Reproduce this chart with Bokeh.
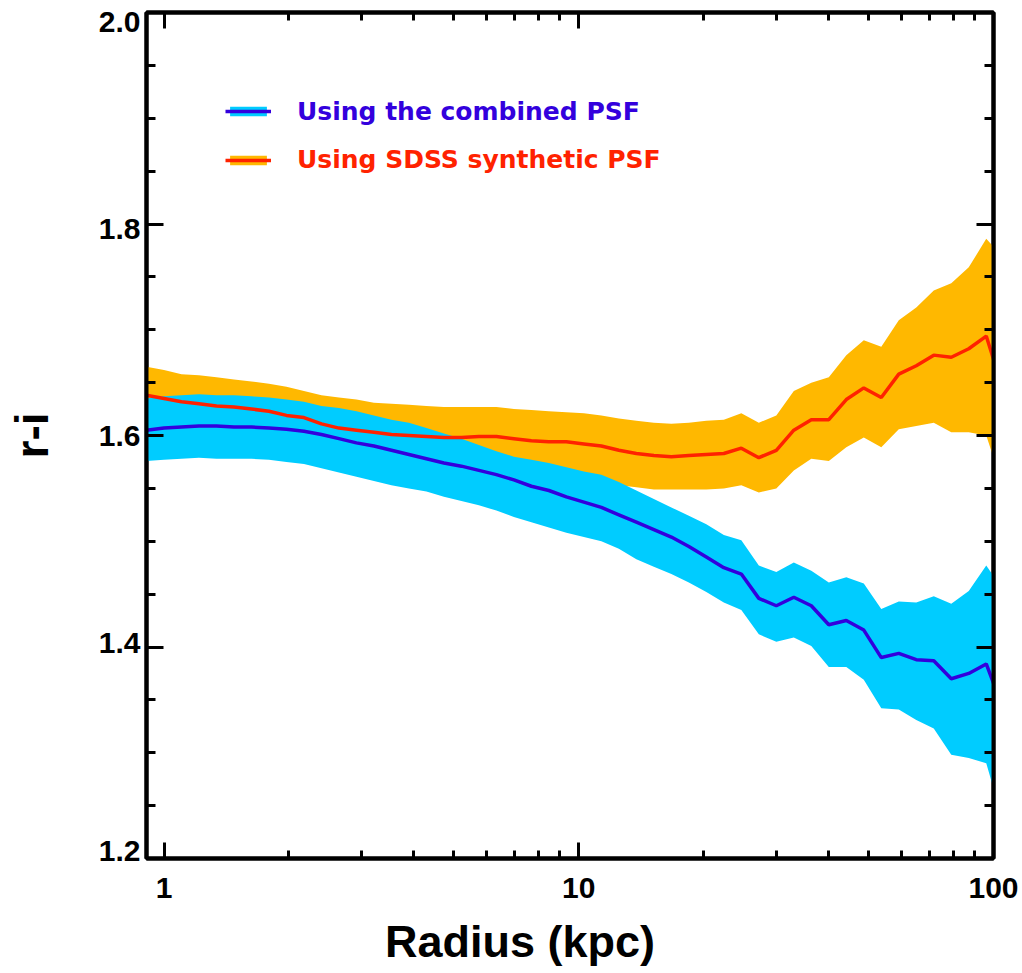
from bokeh.plotting import figure
from bokeh.models import (Range1d, LogAxis, LinearAxis, FixedTicker, SingleIntervalTicker,
                          PrintfTickFormatter, CustomJSTickFormatter, Legend, LegendItem,
                          ColumnDataSource)
from bokeh.embed import file_html
from bokeh.resources import INLINE

# ---------------- data ----------------
radius_kpc = [0.9074, 1.000, 1.102, 1.2144, 1.3383, 1.4748, 1.6252, 1.7910, 1.9737, 2.1750,
              2.3969, 2.6413, 2.9107, 3.2076, 3.5348, 3.8954, 4.2927, 4.7306, 5.2131, 5.7448,
              6.3308, 6.9765, 7.6881, 8.4723, 9.3365, 10.289, 11.338, 12.495, 13.769, 15.173,
              16.721, 18.427, 20.306, 22.377, 24.660, 27.175, 29.947, 33.002, 36.368, 40.078,
              44.166, 48.671, 53.635, 59.106, 65.135, 71.778, 79.100, 87.168, 96.059, 105.86]

# Using SDSS synthetic PSF
ri_sdss = [1.638, 1.635, 1.632, 1.630, 1.628, 1.627, 1.625, 1.623, 1.619, 1.617,
           1.611, 1.607, 1.605, 1.603, 1.601, 1.600, 1.599, 1.598, 1.598, 1.599,
           1.599, 1.597, 1.595, 1.594, 1.594, 1.592, 1.590, 1.586, 1.583, 1.581,
           1.580, 1.581, 1.582, 1.583, 1.588, 1.579, 1.586, 1.605, 1.615, 1.615,
           1.634, 1.645, 1.636, 1.658, 1.666, 1.676, 1.674, 1.682, 1.694, 1.641]
ri_sdss_hi = [1.665, 1.662, 1.658, 1.657, 1.655, 1.653, 1.651, 1.649, 1.646, 1.642,
              1.638, 1.636, 1.634, 1.631, 1.630, 1.629, 1.628, 1.627, 1.627, 1.627,
              1.627, 1.625, 1.624, 1.623, 1.622, 1.621, 1.619, 1.616, 1.614, 1.612,
              1.611, 1.612, 1.614, 1.615, 1.621, 1.612, 1.619, 1.642, 1.650, 1.655,
              1.676, 1.690, 1.684, 1.709, 1.721, 1.737, 1.744, 1.759, 1.786, 1.768]
ri_sdss_lo = [1.611, 1.608, 1.606, 1.603, 1.601, 1.601, 1.599, 1.597, 1.592, 1.592,
              1.584, 1.578, 1.576, 1.575, 1.572, 1.571, 1.570, 1.569, 1.569, 1.569,
              1.568, 1.566, 1.562, 1.560, 1.558, 1.556, 1.555, 1.553, 1.551, 1.549,
              1.549, 1.549, 1.549, 1.550, 1.553, 1.546, 1.550, 1.567, 1.578, 1.576,
              1.589, 1.598, 1.589, 1.606, 1.609, 1.612, 1.603, 1.603, 1.600, 1.550]

# Using the combined PSF
ri_comb = [1.605, 1.607, 1.608, 1.609, 1.609, 1.608, 1.608, 1.607, 1.606, 1.604,
           1.601, 1.597, 1.593, 1.590, 1.586, 1.582, 1.578, 1.574, 1.571, 1.567,
           1.563, 1.558, 1.552, 1.548, 1.542, 1.537, 1.532, 1.525, 1.518, 1.511,
           1.504, 1.495, 1.485, 1.475, 1.469, 1.446, 1.439, 1.447, 1.439, 1.421,
           1.425, 1.416, 1.390, 1.394, 1.388, 1.387, 1.370, 1.375, 1.384, 1.340]
ri_comb_hi = [1.635, 1.637, 1.638, 1.639, 1.638, 1.638, 1.637, 1.636, 1.634, 1.632,
              1.628, 1.626, 1.623, 1.619, 1.615, 1.612, 1.607, 1.602, 1.597, 1.591,
              1.585, 1.580, 1.577, 1.574, 1.570, 1.566, 1.563, 1.556, 1.548, 1.540,
              1.532, 1.524, 1.516, 1.506, 1.501, 1.477, 1.471, 1.480, 1.472, 1.461,
              1.466, 1.460, 1.436, 1.443, 1.442, 1.448, 1.441, 1.453, 1.477, 1.453]
ri_comb_lo = [1.576, 1.577, 1.578, 1.579, 1.578, 1.578, 1.578, 1.577, 1.575, 1.573,
              1.569, 1.565, 1.561, 1.557, 1.553, 1.550, 1.547, 1.542, 1.538, 1.534,
              1.529, 1.523, 1.518, 1.513, 1.508, 1.504, 1.500, 1.493, 1.483, 1.476,
              1.469, 1.461, 1.452, 1.442, 1.435, 1.412, 1.405, 1.409, 1.401, 1.381,
              1.381, 1.369, 1.342, 1.341, 1.331, 1.323, 1.298, 1.295, 1.290, 1.233]

x_major_ticks = [1, 10, 100]
x_minor_ticks = [2, 3, 4, 5, 6, 7, 8, 9, 20, 30, 40, 50, 60, 70, 80, 90]

label_comb = "Using the combined PSF"
label_sdss = "Using SDSS synthetic PSF"
x_title = "Radius (kpc)"
y_title = "r-i"

# ---------------- styles ----------------
ORANGE = "#FFB800"
CYAN = "#00CCFF"
RED = "#FF2200"
BLUE = "#3300DD"
NBSP = "\u00a0"

src = ColumnDataSource(dict(x=radius_kpc, sdss=ri_sdss, sdss_hi=ri_sdss_hi, sdss_lo=ri_sdss_lo,
                            comb=ri_comb, comb_hi=ri_comb_hi, comb_lo=ri_comb_lo))

p = figure(width=1022, height=973, x_axis_type="log",
           x_range=Range1d(0.9074, 100), y_range=Range1d(1.2, 2.0),
           output_backend="svg", toolbar_location=None,
           min_border_left=146, min_border_right=29, min_border_top=12, min_border_bottom=115)
p.grid.visible = False
p.outline_line_color = "black"
p.outline_line_width = 4
p.background_fill_color = "white"
p.border_fill_color = "white"
# tick labels of the y axis sit slightly inside the end ticks (as in the original)
p.extra_y_ranges = {"ylab": Range1d(1.1923, 2.0087)}

a_sdss = p.varea(x="x", y1="sdss_lo", y2="sdss_hi", source=src, fill_color=ORANGE)
a_comb = p.varea(x="x", y1="comb_lo", y2="comb_hi", source=src, fill_color=CYAN)
l_sdss = p.line(x="x", y="sdss", source=src, line_color=RED, line_width=3.5)
l_comb = p.line(x="x", y="comb", source=src, line_color=BLUE, line_width=3.5)

xt = FixedTicker(ticks=x_major_ticks, minor_ticks=x_minor_ticks)
yt = SingleIntervalTicker(interval=0.2, num_minor_ticks=4)
EMPTY = CustomJSTickFormatter(code="return ''")

top = LogAxis()
right = LinearAxis()
p.add_layout(top, "above")
p.add_layout(right, "right")

def style(ax, ticker, major_len, minor_len):
    ax.ticker = ticker
    ax.axis_line_width = 4
    ax.axis_line_color = "black"
    ax.major_tick_in = major_len
    ax.major_tick_out = 0
    ax.minor_tick_in = minor_len
    ax.minor_tick_out = 0
    ax.major_tick_line_width = 3
    ax.minor_tick_line_width = 3
    ax.major_tick_line_color = "black"
    ax.minor_tick_line_color = "black"
    ax.major_label_text_font = "Liberation Sans"
    ax.major_label_text_font_style = "bold"
    ax.major_label_text_font_size = "30px"
    ax.major_label_text_color = "black"
    ax.axis_label_text_font = "Liberation Sans"
    ax.axis_label_text_font_style = "bold"
    ax.axis_label_text_color = "black"

for ax in p.below:
    style(ax, xt, 16, 8)
    ax.formatter = PrintfTickFormatter(format="%g")
    ax.major_label_standoff = 19
    ax.axis_label = x_title + NBSP * 8
    ax.axis_label_text_font_size = "45px"
    ax.axis_label_standoff = 15
for ax in p.left:
    style(ax, yt, 17, 9)
    ax.formatter = EMPTY
    ax.major_label_standoff = 0
style(top, xt, 16, 8)
top.formatter = EMPTY
top.major_label_standoff = 0
style(right, yt, 17, 9)
right.formatter = EMPTY
right.major_label_standoff = 0

# outer left axis: only the tick labels and the title
ylab = LinearAxis(y_range_name="ylab")
style(ylab, SingleIntervalTicker(interval=0.2, num_minor_ticks=0), 0, 0)
ylab.axis_line_color = None
ylab.major_tick_line_color = None
ylab.minor_tick_line_color = None
ylab.formatter = PrintfTickFormatter(format="%.1f")
ylab.major_label_standoff = 6
ylab.axis_label = y_title
ylab.axis_label_text_font_size = "46px"
ylab.axis_label_standoff = 38
p.add_layout(ylab, "left")

# legends
def make_legend(label, renderers, color, loc):
    lg = Legend(items=[LegendItem(label=label, renderers=renderers)], location=loc,
                orientation="vertical", padding=0, margin=0, spacing=0,
                glyph_width=46, glyph_height=12, label_standoff=26, label_height=28,
                label_text_font="DejaVu Sans", label_text_font_style="bold",
                label_text_font_size="25px", label_text_color=color,
                border_line_alpha=0, background_fill_alpha=0)
    p.add_layout(lg, "center")

make_legend(label_comb, [a_comb, l_comb], BLUE, (79, 732.5))
make_legend(label_sdss, [a_sdss, l_sdss], RED, (79, 684))

open("out.html", "w").write(file_html(p, INLINE))
